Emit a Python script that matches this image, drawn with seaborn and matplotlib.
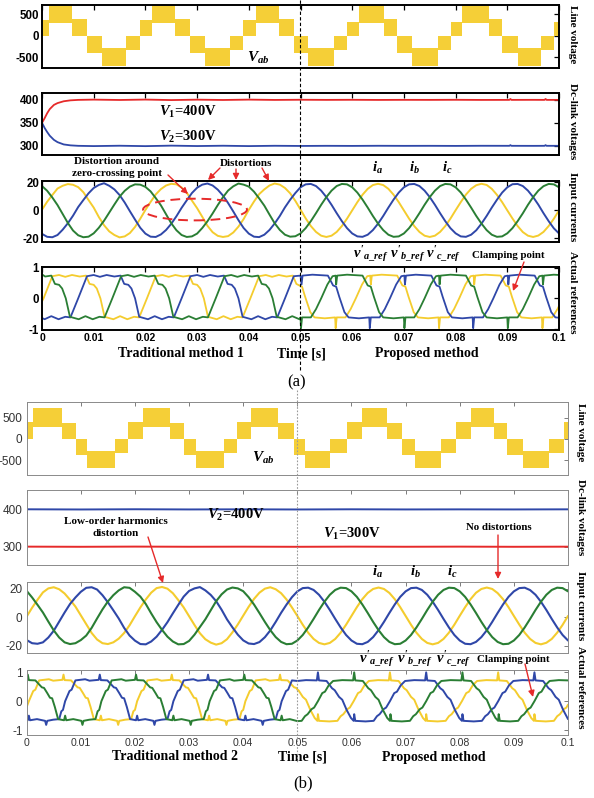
import numpy as np
import matplotlib
matplotlib.use("Agg")
import matplotlib.pyplot as plt
import seaborn as sns
from matplotlib.patches import Ellipse, FancyArrowPatch
from matplotlib.lines import Line2D

# ---------------- DATA (times in ms) ----------------
T_MS = list(range(0, 101))  # current samples every 1 ms

# (a) line voltage envelope: segment start times, lower / upper band values
VAB_A_T = [0, 1.3, 5.8, 8.7, 11.6, 16.3, 18.9, 21.3, 25.8, 28.7, 31.6, 36.3, 38.9, 41.3, 45.8, 48.7,
           51.4, 56.4, 59.0, 61.3, 66.1, 68.7, 71.6, 76.5, 79.1, 81.3, 86.5, 89.0, 92.0, 96.6, 99.1, 100]
VAB_A_LO = [0, 290, 0, -400, -710, -330, 0, 290, 0, -400, -710, -330, 0, 290, 0, -400, -710, -330,
            0, 300, 0, -400, -710, -330, 0, 300, 0, -400, -710, -330, 0, 0]
VAB_A_HI = [370, 740, 400, 0, -290, 0, 370, 740, 400, 0, -290, 0, 370, 740, 400, 0, -290, 0,
            330, 740, 400, 0, -290, 0, 330, 740, 400, 0, -290, 0, 330, 330]

# (b) line voltage envelope
VAB_B_T = [0, 1.2, 6.5, 9.1, 11.2, 16.4, 18.8, 21.5, 26.5, 29.1, 31.3, 36.4, 38.8, 41.5, 46.5, 49.3,
           51.5, 56.1, 59.2, 62.0, 66.6, 69.4, 71.7, 76.5, 79.3, 82.1, 86.4, 88.8, 91.6, 96.5, 99.3, 100]
VAB_B_LO = [0, 290, 0, -375, -690, -340, 0, 290, 0, -375, -690, -340, 0, 290, 0, -370, -690, -340,
            0, 290, 0, -370, -690, -340, 0, 290, 0, -370, -690, -340, 0, 0]
VAB_B_HI = [400, 720, 370, 0, -280, 0, 400, 720, 370, 0, -280, 0, 400, 720, 370, 0, -280, 0,
            400, 720, 370, 0, -280, 0, 400, 720, 370, 0, -280, 0, 400, 400]

# (a) dc-link voltages
DC_A_T = [0, 0.5, 1, 1.5, 2.3, 3, 4.2, 5.5, 7, 10, 15, 20, 25, 30, 35, 40, 45, 50, 55, 60, 65, 70,
          75, 80, 85, 90.4, 90.6, 90.8, 95, 97.2, 97.4, 97.6, 100]
DC_A_V1 = [350, 360, 371, 380, 389, 393, 397, 399, 400, 400.6, 399.8, 400.7, 399.6, 400.5, 399.8, 400.6,
           399.9, 400.3, 400, 400.2, 399.9, 400.1, 400, 400.2, 399.9, 400, 402, 400, 400.1, 400, 402, 400, 400]
DC_A_V2 = [350, 339, 330, 322, 313, 308, 303, 301, 300, 299.4, 300.2, 299.3, 300.4, 299.5, 300.2, 299.4,
           300.1, 299.7, 300, 299.8, 300.1, 299.9, 300, 299.8, 300.1, 300, 301.5, 300, 299.9, 300, 301.5, 300, 300]

# (b) dc-link voltages
DC_B_T = [0, 10, 20, 30, 40, 50, 60, 70, 80, 90, 100]
DC_B_V2 = [400.3, 399.8, 400.4, 399.9, 400.2, 399.8, 400.3, 399.9, 400.1, 399.9, 400.2]
DC_B_V1 = [300.2, 299.8, 300.3, 299.9, 300.1, 299.8, 300.2, 299.9, 300.2, 299.8, 300.1]

# (a) input currents
A_IA = [0.5, 6.2, 11.0, 15.6, 17.6, 18.8, 18.3, 16.6, 13.0, 7.4, 2.0, -4.8, -10.6, -15.0, -17.6, -19.3, -18.6, -16.2, -11.8, -6.0,
        0.3, 6.0, 11.4, 15.2, 17.8, 19.0, 18.6, 16.4, 12.6, 7.0, 1.6, -4.6, -11.0, -15.6, -18.2, -19.0, -18.4, -15.8, -11.6, -6.2,
        0.4, 6.3, 11.6, 15.0, 17.8, 19.2, 18.4, 16.0, 12.2, 6.8, 0.6, -5.7, -11.2, -15.4, -18.1, -19.0, -18.1, -15.4, -11.2, -5.9,
        0.0, 5.9, 11.2, 15.4, 18.1, 19.0, 18.1, 15.4, 11.2, 5.9, 0.0, -5.9, -11.2, -15.4, -18.1, -19.0, -18.1, -15.4, -11.2, -5.9,
        0.1, 5.9, 11.3, 15.4, 18.0, 19.0, 18.2, 15.4, 11.1, 5.9, 0.0, -5.8, -11.2, -15.5, -18.1, -19.0, -18.0, -15.4, -11.2, -6.0,
        0.0]
A_IB = [-16.8, -18.9, -19.2, -17.6, -13.8, -9.2, -3.8, 2.4, 7.4, 12.2, 16.0, 18.2, 19.4, 17.6, 15.0, 11.0, 5.6, -0.6, -6.6, -12.4,
        -16.6, -18.8, -19.0, -17.2, -14.0, -9.6, -4.2, 1.8, 7.2, 12.4, 16.2, 18.4, 19.2, 17.8, 14.8, 10.6, 5.2, -0.8, -7.0, -12.6,
        -16.6, -18.8, -19.1, -17.4, -14.0, -9.4, -4.0, 2.2, 7.6, 12.4, 16.5, 18.6, 18.9, 17.4, 14.1, 9.5, 4.0, -2.0, -7.7, -12.7,
        -16.5, -18.6, -18.9, -17.4, -14.1, -9.5, -4.0, 2.0, 7.7, 12.7, 16.5, 18.6, 18.9, 17.4, 14.1, 9.5, 4.0, -2.0, -7.7, -12.7,
        -16.4, -18.6, -18.9, -17.4, -14.2, -9.5, -4.0, 2.0, 7.6, 12.7, 16.5, 18.7, 18.9, 17.4, 14.1, 9.5, 4.1, -2.0, -7.7, -12.8,
        -16.5]
A_IC = [17.4, 14.0, 9.2, 3.8, -2.6, -9.0, -14.4, -17.8, -19.2, -18.8, -16.4, -12.4, -7.4, -1.6, 4.2, 9.8, 14.0, 17.0, 18.6, 18.4,
        16.8, 13.6, 8.8, 3.6, -2.8, -9.2, -14.2, -17.6, -19.0, -18.6, -16.6, -12.6, -7.8, -2.2, 3.8, 9.4, 14.2, 17.2, 19.2, 18.4,
        17.0, 13.4, 8.6, 3.4, -3.0, -9.2, -14.0, -17.4, -18.8, -18.5, -16.5, -12.7, -7.7, -2.0, 4.0, 9.5, 14.1, 17.4, 18.9, 18.6,
        16.5, 12.7, 7.7, 2.0, -4.0, -9.5, -14.1, -17.4, -18.9, -18.6, -16.5, -12.7, -7.7, -2.0, 4.0, 9.5, 14.1, 17.4, 18.9, 18.6,
        16.5, 12.8, 7.7, 2.0, -4.0, -9.4, -14.1, -17.4, -18.9, -18.6, -16.4, -12.7, -7.7, -2.1, 4.0, 9.5, 14.1, 17.3, 18.9, 18.6,
        16.5]

# (b) input currents
B_IA = [0.6, 6.8, 12.4, 17.6, 20.4, 21.2, 19.8, 16.8, 12.4, 7.6, 1.4, -4.8, -11.0, -15.6, -18.2, -18.8, -17.6, -15.0, -11.0, -5.6,
        0.8, 7.0, 12.6, 17.4, 20.6, 21.4, 20.2, 17.0, 12.2, 7.0, 0.8, -5.4, -11.2, -15.4, -17.8, -19.2, -18.2, -15.4, -10.6, -5.0,
        1.2, 7.4, 13.0, 17.4, 20.2, 21.2, 19.8, 17.0, 12.6, 7.0, 1.0, -5.2, -10.8, -15.2, -18.0, -19.0, -18.0, -15.2, -10.8, -5.2,
        1.0, 7.2, 12.8, 17.2, 20.0, 21.0, 20.0, 17.2, 12.8, 7.2, 1.0, -5.2, -10.8, -15.2, -18.0, -19.0, -18.0, -15.2, -10.8, -5.2,
        1.1, 7.2, 12.8, 17.3, 20.0, 21.0, 20.0, 17.1, 12.8, 7.2, 1.0, -5.1, -10.8, -15.2, -18.0, -19.0, -17.9, -15.2, -10.8, -5.3,
        1.0]
B_IB = [-16.0, -18.2, -18.6, -17.6, -14.2, -9.4, -3.0, 3.4, 9.4, 14.0, 18.0, 20.8, 21.2, 19.6, 15.6, 10.6, 5.0, -0.8, -7.4, -12.8,
        -16.4, -18.8, -19.0, -17.0, -13.6, -8.8, -3.4, 2.8, 8.8, 14.6, 18.6, 20.4, 21.3, 19.0, 15.8, 11.4, 5.4, -1.4, -7.0, -12.2,
        -16.2, -18.4, -18.8, -17.4, -14.0, -9.2, -3.2, 3.2, 9.0, 14.2, 18.3, 20.6, 20.9, 19.3, 15.9, 11.0, 5.2, -1.1, -7.1, -12.4,
        -16.3, -18.6, -18.9, -17.3, -13.9, -9.0, -3.2, 3.1, 9.1, 14.4, 18.3, 20.6, 20.9, 19.3, 15.9, 11.0, 5.2, -1.1, -7.1, -12.4,
        -16.3, -18.6, -18.9, -17.3, -13.9, -9.1, -3.2, 3.1, 9.1, 14.4, 18.3, 20.6, 20.9, 19.2, 15.9, 11.0, 5.2, -1.1, -7.1, -12.4,
        -16.3]
B_IC = [18.6, 14.0, 8.8, 3.4, -3.0, -9.2, -14.2, -17.6, -18.8, -18.2, -16.0, -12.8, -7.4, -0.8, 5.6, 11.2, 15.6, 19.0, 21.2, 20.8,
        18.0, 14.6, 9.4, 2.8, -3.4, -8.8, -13.6, -17.0, -19.0, -18.8, -16.6, -12.2, -6.8, -1.4, 5.0, 11.4, 16.2, 19.6, 21.0, 20.4,
        18.4, 14.2, 9.0, 3.0, -3.2, -9.0, -13.9, -17.3, -18.9, -18.6, -16.3, -12.4, -7.1, -1.1, 5.2, 11.0, 15.9, 19.3, 20.9, 20.6,
        18.3, 14.4, 9.1, 3.1, -3.2, -9.0, -13.9, -17.3, -18.9, -18.6, -16.3, -12.4, -7.1, -1.1, 5.2, 11.0, 15.9, 19.3, 20.9, 20.6,
        18.3, 14.4, 9.1, 3.1, -3.2, -9.0, -13.9, -17.3, -18.9, -18.6, -16.3, -12.4, -7.1, -1.1, 5.2, 11.0, 15.9, 19.3, 20.9, 20.6,
        18.3]

# (a) actual references (time ms, value)
REF_A_YEL = [(0.0,-0.10),(0.3,0.00),(2.0,0.72),(3.3,0.76),(4.5,0.70),(5.8,0.76),(7.3,0.71),(8.5,0.74),(9.2,0.47),(10.0,0.44),(10.6,0.32),(11.3,0.00),(12.1,-0.60),(13.8,-0.68),(15.1,-0.58),(16.5,-0.68),(17.8,-0.60),(18.8,-0.62),
 (20.3,0.00),(22.0,0.72),(23.3,0.76),(24.5,0.70),(25.8,0.76),(27.3,0.71),(28.5,0.74),(29.2,0.47),(30.0,0.44),(30.6,0.32),(31.3,0.00),(32.1,-0.60),(33.8,-0.68),(35.1,-0.58),(36.5,-0.68),(37.8,-0.60),(38.8,-0.62),
 (40.3,0.00),(42.0,0.72),(43.3,0.76),(44.5,0.70),(45.8,0.76),(47.3,0.71),(48.5,0.74),(49.2,0.47),(50.0,0.40),
 (50.3,0.38),(50.9,0.05),(51.3,-0.15),(51.9,-0.45),(52.7,-0.62),(54.7,-0.65),(56.7,-0.62),(56.8,-0.97),(57.0,-0.62),(58.7,-0.62),(59.7,-0.35),
 (60.7,0.00),(61.9,0.45),(62.9,0.72),(63.5,0.74),(63.6,0.45),(63.8,0.74),(65.7,0.77),(68.7,0.74),(69.3,0.55),(69.7,0.42),(70.3,0.38),(70.9,0.05),(71.3,-0.15),(71.9,-0.45),(72.7,-0.62),(74.7,-0.65),(76.7,-0.62),(76.8,-0.97),(77.0,-0.62),(78.7,-0.62),(79.7,-0.35),
 (80.7,0.00),(81.9,0.45),(82.9,0.72),(83.5,0.74),(83.6,0.45),(83.8,0.74),(85.7,0.77),(88.7,0.74),(89.3,0.55),(89.7,0.42),(90.3,0.38),(90.9,0.05),(91.3,-0.15),(91.9,-0.45),(92.7,-0.62),(94.7,-0.65),(96.7,-0.62),(96.8,-0.97),(97.0,-0.62),(98.7,-0.62),(99.7,-0.35),(100.0,-0.25)]
REF_A_BLU = [(0.0,-0.64),(0.5,-0.68),(1.8,-0.58),(3.2,-0.68),(4.5,-0.60),(5.5,-0.62),
 (7.0,0.00),(8.7,0.72),(10.0,0.76),(11.2,0.70),(12.5,0.76),(14.0,0.71),(15.2,0.74),(15.9,0.47),(16.7,0.44),(17.3,0.32),(18.0,0.00),(18.8,-0.60),(20.5,-0.68),(21.8,-0.58),(23.2,-0.68),(24.5,-0.60),(25.5,-0.62),
 (27.0,0.00),(28.7,0.72),(30.0,0.76),(31.2,0.70),(32.5,0.76),(34.0,0.71),(35.2,0.74),(35.9,0.47),(36.7,0.44),(37.3,0.32),(38.0,0.00),(38.8,-0.60),(40.5,-0.68),(41.8,-0.58),(43.2,-0.68),(44.5,-0.60),(45.5,-0.62),
 (47.0,0.00),(48.7,0.72),(50.0,0.74),
 (50.2,0.45),(50.4,0.74),(52.3,0.77),(55.3,0.74),(55.9,0.55),(56.3,0.42),(56.9,0.38),(57.5,0.05),(57.9,-0.15),(58.5,-0.45),(59.3,-0.62),(61.3,-0.65),(63.3,-0.62),(63.4,-0.97),(63.6,-0.62),(65.3,-0.62),(66.3,-0.35),
 (67.3,0.00),(68.5,0.45),(69.5,0.72),(70.1,0.74),(70.2,0.45),(70.4,0.74),(72.3,0.77),(75.3,0.74),(75.9,0.55),(76.3,0.42),(76.9,0.38),(77.5,0.05),(77.9,-0.15),(78.5,-0.45),(79.3,-0.62),(81.3,-0.65),(83.3,-0.62),(83.4,-0.97),(83.6,-0.62),(85.3,-0.62),(86.3,-0.35),
 (87.3,0.00),(88.5,0.45),(89.5,0.72),(90.1,0.74),(90.2,0.45),(90.4,0.74),(92.3,0.77),(95.3,0.74),(95.9,0.55),(96.3,0.42),(96.9,0.38),(97.5,0.05),(97.9,-0.15),(98.5,-0.45),(99.3,-0.62),(100.0,-0.63)]
REF_A_GRN = [(0.0,0.78),(0.6,0.71),(1.8,0.74),(2.5,0.47),(3.3,0.44),(3.9,0.32),(4.6,0.00),(5.4,-0.60),(7.1,-0.68),(8.4,-0.58),(9.8,-0.68),(11.1,-0.60),(12.1,-0.62),
 (13.6,0.00),(15.3,0.72),(16.6,0.76),(17.8,0.70),(19.1,0.76),(20.6,0.71),(21.8,0.74),(22.5,0.47),(23.3,0.44),(23.9,0.32),(24.6,0.00),(25.4,-0.60),(27.1,-0.68),(28.4,-0.58),(29.8,-0.68),(31.1,-0.60),(32.1,-0.62),
 (33.6,0.00),(35.3,0.72),(36.6,0.76),(37.8,0.70),(39.1,0.76),(40.6,0.71),(41.8,0.74),(42.5,0.47),(43.3,0.44),(43.9,0.32),(44.6,0.00),(45.4,-0.60),(47.1,-0.68),(48.4,-0.58),(49.8,-0.68),
 (50.0,-0.62),(50.1,-0.97),(50.3,-0.62),(52.0,-0.62),(53.0,-0.35),
 (54.0,0.00),(55.2,0.45),(56.2,0.72),(56.8,0.74),(56.9,0.45),(57.1,0.74),(59.0,0.77),(62.0,0.74),(62.6,0.55),(63.0,0.42),(63.6,0.38),(64.2,0.05),(64.6,-0.15),(65.2,-0.45),(66.0,-0.62),(68.0,-0.65),(70.0,-0.62),(70.1,-0.97),(70.3,-0.62),(72.0,-0.62),(73.0,-0.35),
 (74.0,0.00),(75.2,0.45),(76.2,0.72),(76.8,0.74),(76.9,0.45),(77.1,0.74),(79.0,0.77),(82.0,0.74),(82.6,0.55),(83.0,0.42),(83.6,0.38),(84.2,0.05),(84.6,-0.15),(85.2,-0.45),(86.0,-0.62),(88.0,-0.65),(90.0,-0.62),(90.1,-0.97),(90.3,-0.62),(92.0,-0.62),(93.0,-0.35),
 (94.0,0.00),(95.2,0.45),(96.2,0.72),(96.8,0.74),(96.9,0.45),(97.1,0.74),(99.0,0.77),(100.0,0.76)]

# (b) actual references
REF_B_YEL = [(0.0,-0.20),(0.4,0.00),(1.2,0.35),(1.6,0.40),(2.3,0.72),(4.1,0.76),(4.9,0.71),(6.6,0.74),(6.8,0.92),(7.0,0.73),(8.2,0.72),(8.9,0.58),(9.4,0.48),(9.8,0.46),(10.4,0.28),(10.9,0.12),(11.3,0.10),(11.8,-0.20),(12.4,-0.62),(13.5,-0.66),(13.7,-0.50),(13.9,-0.66),(15.2,-0.62),(16.7,-0.68),(16.9,-0.82),(17.1,-0.68),(18.2,-0.64),(19.3,-0.62),(19.7,-0.35),(20.0,-0.30),
 (20.4,0.00),(21.2,0.35),(21.6,0.40),(22.3,0.72),(24.1,0.76),(24.9,0.71),(26.6,0.74),(26.8,0.92),(27.0,0.73),(28.2,0.72),(28.9,0.58),(29.4,0.48),(29.8,0.46),(30.4,0.28),(30.9,0.12),(31.3,0.10),(31.8,-0.20),(32.4,-0.62),(33.5,-0.66),(33.7,-0.50),(33.9,-0.66),(35.2,-0.62),(36.7,-0.68),(36.9,-0.82),(37.1,-0.68),(38.2,-0.64),(39.3,-0.62),(39.7,-0.35),(40.0,-0.30),
 (40.4,0.00),(41.2,0.35),(41.6,0.40),(42.3,0.72),(44.1,0.76),(44.9,0.71),(46.6,0.74),(46.8,0.92),(47.0,0.73),(48.2,0.72),(48.9,0.58),(49.4,0.48),(49.8,0.46),
 (50.0,0.40),(50.2,0.38),(51.0,0.15),(51.6,0.05),(52.4,-0.30),(53.2,-0.58),(53.7,-0.68),(53.8,-0.45),(54.0,-0.68),(55.9,-0.70),(57.4,-0.68),(58.0,-0.52),(58.5,-0.45),(59.2,-0.28),(59.7,-0.22),
 (60.4,0.00),(61.2,0.28),(61.7,0.33),(62.4,0.55),(63.2,0.70),(64.9,0.73),(66.9,0.72),(67.1,1.00),(67.3,0.72),(68.7,0.70),(69.7,0.45),(70.2,0.38),(71.0,0.15),(71.6,0.05),(72.4,-0.30),(73.2,-0.58),(73.7,-0.68),(73.8,-0.45),(74.0,-0.68),(75.9,-0.70),(77.4,-0.68),(78.0,-0.52),(78.5,-0.45),(79.2,-0.28),(79.7,-0.22),
 (80.4,0.00),(81.2,0.28),(81.7,0.33),(82.4,0.55),(83.2,0.70),(84.9,0.73),(86.9,0.72),(87.1,1.00),(87.3,0.72),(88.7,0.70),(89.7,0.45),(90.2,0.38),(91.0,0.15),(91.6,0.05),(92.4,-0.30),(93.2,-0.58),(93.7,-0.68),(93.8,-0.45),(94.0,-0.68),(95.9,-0.70),(97.4,-0.68),(98.0,-0.52),(98.5,-0.45),(99.2,-0.28),(99.7,-0.22),(100.0,-0.12)]
REF_B_BLU = [(0.0,-0.64),(0.2,-0.66),(0.4,-0.50),(0.6,-0.66),(1.9,-0.62),(3.4,-0.68),(3.6,-0.82),(3.8,-0.68),(4.9,-0.64),(6.0,-0.62),(6.4,-0.35),(6.7,-0.30),
 (7.1,0.00),(7.9,0.35),(8.3,0.40),(9.0,0.72),(10.8,0.76),(11.6,0.71),(13.3,0.74),(13.5,0.92),(13.7,0.73),(14.9,0.72),(15.6,0.58),(16.1,0.48),(16.5,0.46),(17.1,0.28),(17.6,0.12),(18.0,0.10),(18.5,-0.20),(19.1,-0.62),(20.2,-0.66),(20.4,-0.50),(20.6,-0.66),(21.9,-0.62),(23.4,-0.68),(23.6,-0.82),(23.8,-0.68),(24.9,-0.64),(26.0,-0.62),(26.4,-0.35),(26.7,-0.30),
 (27.1,0.00),(27.9,0.35),(28.3,0.40),(29.0,0.72),(30.8,0.76),(31.6,0.71),(33.3,0.74),(33.5,0.92),(33.7,0.73),(34.9,0.72),(35.6,0.58),(36.1,0.48),(36.5,0.46),(37.1,0.28),(37.6,0.12),(38.0,0.10),(38.5,-0.20),(39.1,-0.62),(40.2,-0.66),(40.4,-0.50),(40.6,-0.66),(41.9,-0.62),(43.4,-0.68),(43.6,-0.82),(43.8,-0.68),(44.9,-0.64),(46.0,-0.62),(46.4,-0.35),(46.7,-0.30),
 (47.1,0.00),(47.9,0.35),(48.3,0.40),(49.0,0.72),
 (50.0,0.70),(51.6,0.73),(53.6,0.72),(53.8,1.00),(54.0,0.72),(55.4,0.70),(56.4,0.45),(56.9,0.38),(57.7,0.15),(58.3,0.05),(59.1,-0.30),(59.9,-0.58),(60.4,-0.68),(60.5,-0.45),(60.7,-0.68),(62.6,-0.70),(64.1,-0.68),(64.7,-0.52),(65.2,-0.45),(65.9,-0.28),(66.4,-0.22),
 (67.1,0.00),(67.9,0.28),(68.4,0.33),(69.1,0.55),(69.9,0.70),(71.6,0.73),(73.6,0.72),(73.8,1.00),(74.0,0.72),(75.4,0.70),(76.4,0.45),(76.9,0.38),(77.7,0.15),(78.3,0.05),(79.1,-0.30),(79.9,-0.58),(80.4,-0.68),(80.5,-0.45),(80.7,-0.68),(82.6,-0.70),(84.1,-0.68),(84.7,-0.52),(85.2,-0.45),(85.9,-0.28),(86.4,-0.22),
 (87.1,0.00),(87.9,0.28),(88.4,0.33),(89.1,0.55),(89.9,0.70),(91.6,0.73),(93.6,0.72),(93.8,1.00),(94.0,0.72),(95.4,0.70),(96.4,0.45),(96.9,0.38),(97.7,0.15),(98.3,0.05),(99.1,-0.30),(99.9,-0.58),(100.0,-0.62)]
REF_B_GRN = [(0.0,0.74),(0.2,0.92),(0.4,0.73),(1.6,0.72),(2.3,0.58),(2.8,0.48),(3.2,0.46),(3.8,0.28),(4.3,0.12),(4.7,0.10),(5.2,-0.20),(5.8,-0.62),(6.9,-0.66),(7.1,-0.50),(7.3,-0.66),(8.6,-0.62),(10.1,-0.68),(10.3,-0.82),(10.5,-0.68),(11.6,-0.64),(12.7,-0.62),(13.1,-0.35),(13.4,-0.30),
 (13.8,0.00),(14.6,0.35),(15.0,0.40),(15.7,0.72),(17.5,0.76),(18.3,0.71),(20.0,0.74),(20.2,0.92),(20.4,0.73),(21.6,0.72),(22.3,0.58),(22.8,0.48),(23.2,0.46),(23.8,0.28),(24.3,0.12),(24.7,0.10),(25.2,-0.20),(25.8,-0.62),(26.9,-0.66),(27.1,-0.50),(27.3,-0.66),(28.6,-0.62),(30.1,-0.68),(30.3,-0.82),(30.5,-0.68),(31.6,-0.64),(32.7,-0.62),(33.1,-0.35),(33.4,-0.30),
 (33.8,0.00),(34.6,0.35),(35.0,0.40),(35.7,0.72),(37.5,0.76),(38.3,0.71),(40.0,0.74),(40.2,0.92),(40.4,0.73),(41.6,0.72),(42.3,0.58),(42.8,0.48),(43.2,0.46),(43.8,0.28),(44.3,0.12),(44.7,0.10),(45.2,-0.20),(45.8,-0.62),(46.9,-0.66),(47.1,-0.50),(47.3,-0.66),(48.6,-0.62),
 (50.0,-0.69),(50.8,-0.68),(51.4,-0.52),(51.9,-0.45),(52.6,-0.28),(53.1,-0.22),
 (53.8,0.00),(54.6,0.28),(55.1,0.33),(55.8,0.55),(56.6,0.70),(58.3,0.73),(60.3,0.72),(60.5,1.00),(60.7,0.72),(62.1,0.70),(63.1,0.45),(63.6,0.38),(64.4,0.15),(65.0,0.05),(65.8,-0.30),(66.6,-0.58),(67.1,-0.68),(67.2,-0.45),(67.4,-0.68),(69.3,-0.70),(70.8,-0.68),(71.4,-0.52),(71.9,-0.45),(72.6,-0.28),(73.1,-0.22),
 (73.8,0.00),(74.6,0.28),(75.1,0.33),(75.8,0.55),(76.6,0.70),(78.3,0.73),(80.3,0.72),(80.5,1.00),(80.7,0.72),(82.1,0.70),(83.1,0.45),(83.6,0.38),(84.4,0.15),(85.0,0.05),(85.8,-0.30),(86.6,-0.58),(87.1,-0.68),(87.2,-0.45),(87.4,-0.68),(89.3,-0.70),(90.8,-0.68),(91.4,-0.52),(91.9,-0.45),(92.6,-0.28),(93.1,-0.22),
 (93.8,0.00),(94.6,0.28),(95.1,0.33),(95.8,0.55),(96.6,0.70),(98.3,0.73),(100.0,0.72)]

XTICKS = [0, 0.01, 0.02, 0.03, 0.04, 0.05, 0.06, 0.07, 0.08, 0.09, 0.1]
XTICKLABELS = ["0", "0.01", "0.02", "0.03", "0.04", "0.05", "0.06", "0.07", "0.08", "0.09", "0.1"]

# ---------------- STYLE ----------------
YEL = "#F4CC2E"
BLU = "#2F47A8"
GRN = "#2A7E34"
RED = "#E62A2A"
VBAND = "#F5CF37"

sns.set_theme(style="white")
plt.rcParams.update({
    "axes.grid": False,
    "mathtext.fontset": "custom",
    "mathtext.rm": "Liberation Serif:bold",
    "mathtext.it": "Liberation Serif:italic:bold",
    "mathtext.bf": "Liberation Serif:bold",
})
plt.rcParams["font.family"] = ["Liberation Sans", "DejaVu Sans"]

W, H = 594, 798
fig = plt.figure(figsize=(W / 100, H / 100), dpi=100)
fig.patch.set_facecolor("white")


def fx(x):
    return x / W


def fy(y):
    return 1 - y / H


def add_ax(left, right, top, bottom):
    return fig.add_axes([fx(left), fy(bottom), (right - left) / W, (bottom - top) / H])


def ms(t):
    return np.asarray(t, dtype=float) / 1000.0


def line(ax, t, v, color, lw):
    sns.lineplot(x=ms(t), y=np.asarray(v, dtype=float), ax=ax, color=color, lw=lw,
                 estimator=None, sort=False, legend=False)


def ref(ax, pairs, color, lw):
    t = [p[0] for p in pairs]
    v = [p[1] for p in pairs]
    line(ax, t, v, color, lw)


def style_a(ax, ylim, yticks, show_x):
    ax.set_xlim(0, 0.1)
    ax.set_ylim(*ylim)
    ax.set_xticks(XTICKS)
    ax.set_yticks(yticks)
    ax.set_xlabel("")
    ax.set_ylabel("")
    ax.tick_params(axis="both", direction="in", length=3.5, width=0.9, top=True, right=True,
                   color="black", pad=2)
    ax.set_yticklabels([str(v) for v in yticks], fontsize=8.3, fontweight="bold", color="black")
    if show_x:
        ax.set_xticklabels(XTICKLABELS, fontsize=7.5, fontweight="bold", color="black")
    else:
        ax.set_xticklabels([])
    for s in ax.spines.values():
        s.set_visible(True)
        s.set_linewidth(1.4)
        s.set_color("black")


def style_b(ax, ylim, yticks, show_x):
    ax.set_xlim(0, 0.1)
    ax.set_ylim(*ylim)
    ax.set_xticks(XTICKS)
    ax.set_yticks(yticks)
    ax.set_xlabel("")
    ax.set_ylabel("")
    ax.tick_params(axis="y", direction="in", length=3, width=0.6, right=True,
                   color="#666666", pad=3)
    ax.tick_params(axis="x", direction="in", length=3, width=0.6, top=True,
                   color="#666666", pad=2)
    ax.set_yticklabels([str(v) for v in yticks], fontsize=8.5, color="#333333")
    if show_x:
        ax.set_xticklabels(XTICKLABELS, fontsize=7.6, color="#333333")
    else:
        ax.set_xticklabels([])
    for s in ax.spines.values():
        s.set_visible(True)
        s.set_linewidth(0.7)
        s.set_color("#8a8a8a")


# ---------------- PANEL (a) ----------------
a1 = add_ax(42, 559, 5, 68)
a1.fill_between(ms(VAB_A_T), VAB_A_LO, VAB_A_HI, step="post", color=VBAND, lw=0)
style_a(a1, (-750, 716), [-500, 0, 500], False)

a2 = add_ax(42, 559, 93, 155)
line(a2, DC_A_T, DC_A_V1, RED, 1.3)
line(a2, DC_A_T, DC_A_V2, BLU, 1.3)
style_a(a2, (280, 415), [300, 350, 400], False)

a3 = add_ax(42, 559, 181, 242)
line(a3, T_MS, A_IA, YEL, 1.4)
line(a3, T_MS, A_IB, BLU, 1.4)
line(a3, T_MS, A_IC, GRN, 1.4)
a3.add_patch(Ellipse((0.0296, 0.6), 0.0201, 15.5, fill=False, ec=RED, lw=1.4, ls=(0, (5, 3)), zorder=5))
style_a(a3, (-22.6, 21), [-20, 0, 20], False)

a4 = add_ax(42, 559, 267, 330)
ref(a4, REF_A_YEL, YEL, 1.3)
ref(a4, REF_A_BLU, BLU, 1.3)
ref(a4, REF_A_GRN, GRN, 1.3)
style_a(a4, (-1.03, 1.02), [-1, 0, 1], True)

# ---------------- PANEL (b) ----------------
b1 = add_ax(26.7, 568, 402, 475)
b1.fill_between(ms(VAB_B_T), VAB_B_LO, VAB_B_HI, step="post", color=VBAND, lw=0)
style_b(b1, (-854, 870), [-500, 0, 500], False)

b2 = add_ax(26.7, 568, 490, 565)
line(b2, DC_B_T, DC_B_V2, BLU, 1.4)
line(b2, DC_B_T, DC_B_V1, RED, 1.4)
style_b(b2, (251, 452), [300, 400], False)

b3 = add_ax(26.7, 568, 582, 653)
line(b3, T_MS, B_IA, YEL, 1.5)
line(b3, T_MS, B_IB, BLU, 1.5)
line(b3, T_MS, B_IC, GRN, 1.5)
style_b(b3, (-25.1, 24.9), [-20, 0, 20], False)

b4 = add_ax(26.7, 568, 670, 735)
ref(b4, REF_B_YEL, YEL, 1.4)
ref(b4, REF_B_BLU, BLU, 1.4)
ref(b4, REF_B_GRN, GRN, 1.4)
style_b(b4, (-1.17, 1.08), [-1, 0, 1], True)

# ---------------- vertical split lines ----------------
fig.add_artist(Line2D([fx(300.5), fx(300.5)], [fy(0), fy(372)], transform=fig.transFigure,
                      color="black", lw=0.8, ls=(0, (3, 2)), zorder=10))
fig.add_artist(Line2D([fx(297.4), fx(297.4)], [fy(390), fy(762)], transform=fig.transFigure,
                      color="#9a9a9a", lw=0.8, ls=(0, (1.5, 1.5)), zorder=10))

# ---------------- texts ----------------
SERIF = ["Liberation Serif", "DejaVu Serif"]


def txt(x, y, s, size, weight="bold", style="normal", rot=0, color="black", family=SERIF):
    fig.text(fx(x), fy(y), s, ha="center", va="center", fontsize=size, fontweight=weight,
             fontstyle=style, rotation=rot, color=color, family=family)


# right side labels
for (x, y, s) in [(572, 34, "Line voltage"), (572, 121, "Dc-link voltages"),
                  (572, 207, "Input currents"), (572, 292, "Actual references"),
                  (580, 432, "Line voltage"), (580, 517, "Dc-link voltages"),
                  (580, 606, "Input currents"), (580, 687, "Actual references")]:
    txt(x, y, s, 8, rot=-90)

# panel (a)
txt(258, 58, r"$V_{ab}$", 11)
txt(188, 112, r"$V_1$=400V", 10.5)
txt(188, 137, r"$V_2$=300V", 10.5)
txt(117, 162, "Distortion around", 8)
txt(117, 174, "zero-crossing point", 8)
txt(246, 163, "Distortions", 8)
txt(377, 168, r"$i_a$", 10.5)
txt(414, 168, r"$i_b$", 10.5)
txt(447, 168, r"$i_c$", 10.5)
txt(371, 254, r"$v'_{a\_ref}$", 10.5)
txt(408, 254, r"$v'_{b\_ref}$", 10.5)
txt(443, 254, r"$v'_{c\_ref}$", 10.5)
txt(508, 256, "Clamping point", 7.8)
txt(181, 354, "Traditional method 1", 10)
txt(301, 354, "Time [s]", 10)
txt(427, 354, "Proposed method", 10)
txt(297, 382, "(a)", 12, weight="normal")

# panel (b)
txt(263, 458, r"$V_{ab}$", 11)
txt(236, 515, r"$V_2$=400V", 10.5)
txt(352, 534, r"$V_1$=300V", 10.5)
txt(116, 521, "Low-order harmonics", 8)
txt(116, 534, "distortion", 8)
txt(499, 527, "No distortions", 7.8)
txt(377, 572, r"$i_a$", 10.5)
txt(415, 572, r"$i_b$", 10.5)
txt(452, 572, r"$i_c$", 10.5)
txt(377, 659, r"$v'_{a\_ref}$", 10.5)
txt(415, 659, r"$v'_{b\_ref}$", 10.5)
txt(453, 659, r"$v'_{c\_ref}$", 10.5)
txt(513, 660, "Clamping point", 7.8)
txt(175, 757, "Traditional method 2", 10)
txt(302, 757, "Time [s]", 10)
txt(434, 757, "Proposed method", 10)
txt(303, 783, "(b)", 12, weight="normal")

# ---------------- red arrows ----------------
for (x0, y0, x1, y1) in [(168, 175, 188, 194), (220, 168, 208, 180), (236, 169, 236, 180),
                         (262, 168, 269, 181), (524, 262, 513, 291),
                         (148, 537, 163, 583), (498, 535, 498, 579), (525, 664, 533, 697)]:
    fig.add_artist(FancyArrowPatch((fx(x0), fy(y0)), (fx(x1), fy(y1)), transform=fig.transFigure,
                                   arrowstyle="-|>", mutation_scale=9, color=RED, lw=1.0,
                                   shrinkA=0, shrinkB=0, zorder=12))

fig.savefig("out.png", dpi=100, facecolor="white")
